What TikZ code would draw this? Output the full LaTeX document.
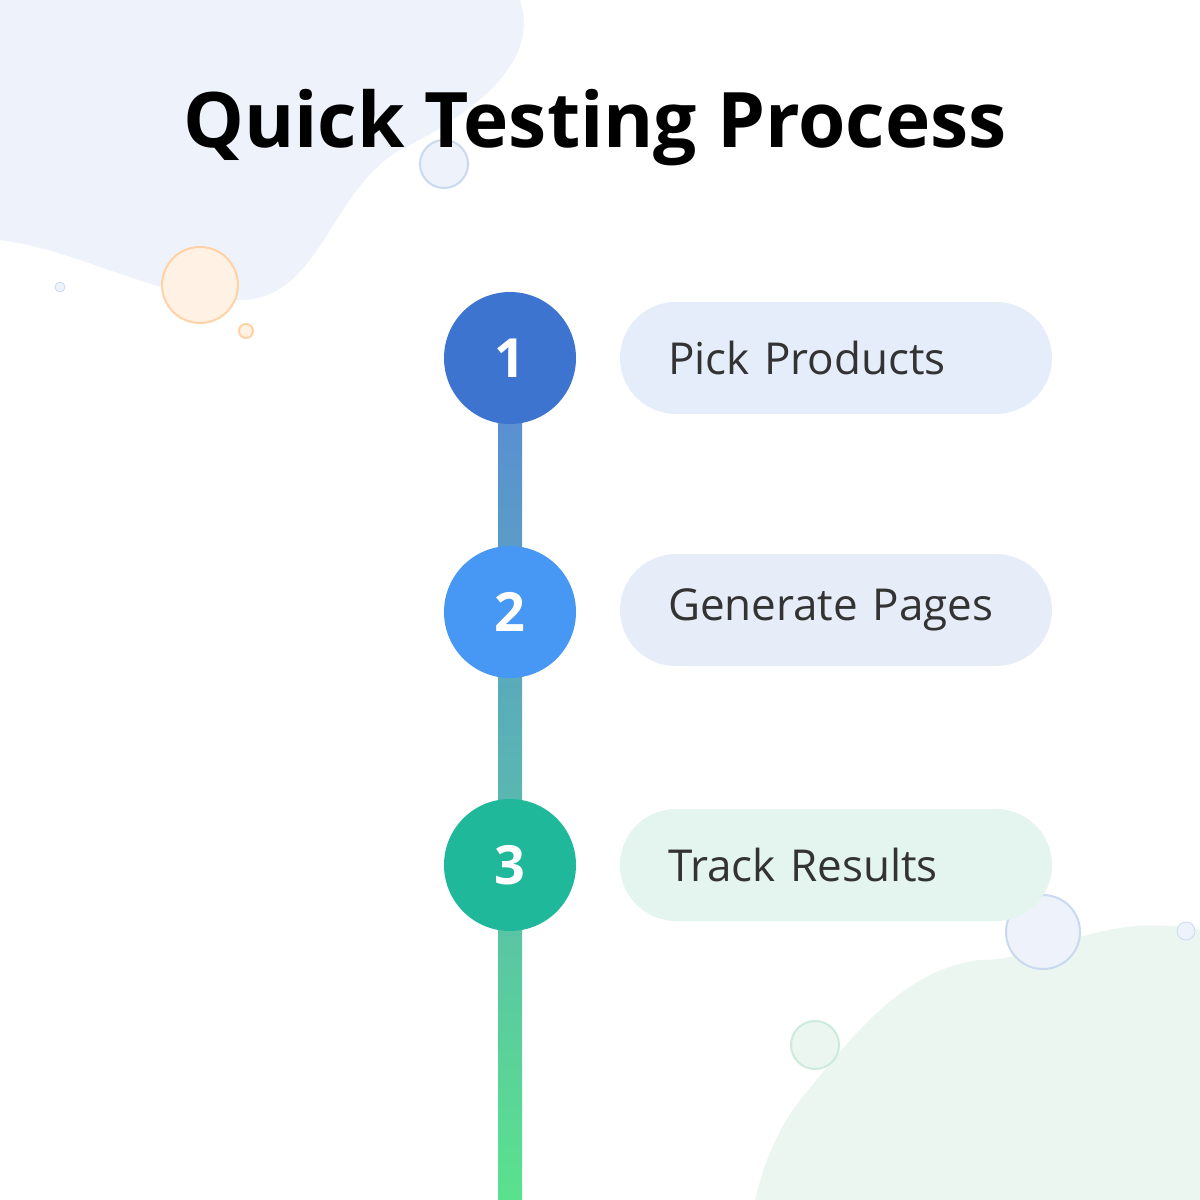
\documentclass[tikz,border=0pt]{standalone}
\usepackage{fontspec}
\setmainfont{Open Sans}
\begin{document}
\begin{tikzpicture}[x=0.5pt,y=-0.5pt]
\definecolor{blobb}{HTML}{EEF3FB}
\definecolor{blobg}{HTML}{EBF6F1}
\definecolor{c1}{HTML}{3D74D0}
\definecolor{c2}{HTML}{4797F5}
\definecolor{c3}{HTML}{20B89A}
\definecolor{p1}{HTML}{E6EDFA}
\definecolor{p2}{HTML}{E7EDF8}
\definecolor{p3}{HTML}{E3F5EE}
\definecolor{txt}{HTML}{333333}
\definecolor{bubb}{HTML}{C9D9F0}
\definecolor{bubbf}{HTML}{EEF3FB}
\definecolor{bubg}{HTML}{CDEBDD}
\tikzset{
 stepcirc/.style={circle,minimum size=132pt*0.5,inner sep=0,text=white,font=\fontsize{27}{27}\selectfont\bfseries},
 pill/.style={rounded corners=28pt,minimum width=216pt,minimum height=56pt,text width=180pt,align=left,text=txt,font=\fontsize{22}{22}\selectfont},
}
\fill[white] (0,0) rectangle (1200,1200);
\useasboundingbox (0,0) rectangle (1200,1200);
% blobs
\fill[blobb] (0,0) -- (520,0) .. controls (540,60) and (480,110) .. (400,150) .. controls (330,190) and (320,300) .. (240,300) .. controls (160,300) and (80,250) .. (0,240) -- cycle;
\fill[blobg] (1200,930) .. controls (1100,910) and (1050,960) .. (980,960) .. controls (900,970) and (850,1040) .. (800,1100) .. controls (770,1140) and (760,1180) .. (755,1200) -- (1200,1200) -- cycle;
% bubbles
\filldraw[draw=orange!35,fill=orange!10,line width=1pt] (200,285) circle (38);
\filldraw[draw=orange!35,fill=orange!10,line width=1pt] (246,331) circle (7);
\filldraw[draw=bubb,fill=bubbf] (60,287) circle (5);
\filldraw[draw=bubb,fill=bubbf,line width=1pt] (444,164) circle (24);
\filldraw[draw=bubb,fill=bubbf,line width=1pt] (1043,932) circle (37);
\filldraw[draw=bubg,fill=blobg,line width=1pt] (815,1045) circle (24);
\filldraw[draw=bubb,fill=bubbf] (1186,931) circle (9);
% title
\node (title) at (595,128) {\fontsize{38.3}{38.3}\selectfont\bfseries Quick Testing Process};
% line
\shade[top color=c1!85!white,bottom color=c3!60!green!70!white] (498,358) rectangle (522,1200);
\coordinate (lineend) at (510,1200);
% steps
\node[stepcirc,fill=c1] (s1) at (510,358) {1};
\node[stepcirc,fill=c2] (s2) at (510,612) {2};
\node[stepcirc,fill=c3] (s3) at (510,865) {3};
\node[pill,fill=p1] (t1) at (836,358) {\hspace*{6pt}Pick Products};
\node[pill,fill=p2] (t2) at (836,610) {\hspace*{6pt}Generate Pages};
\node[pill,fill=p3] (t3) at (836,865) {\hspace*{6pt}Track Results};
\end{tikzpicture}
\end{document}
